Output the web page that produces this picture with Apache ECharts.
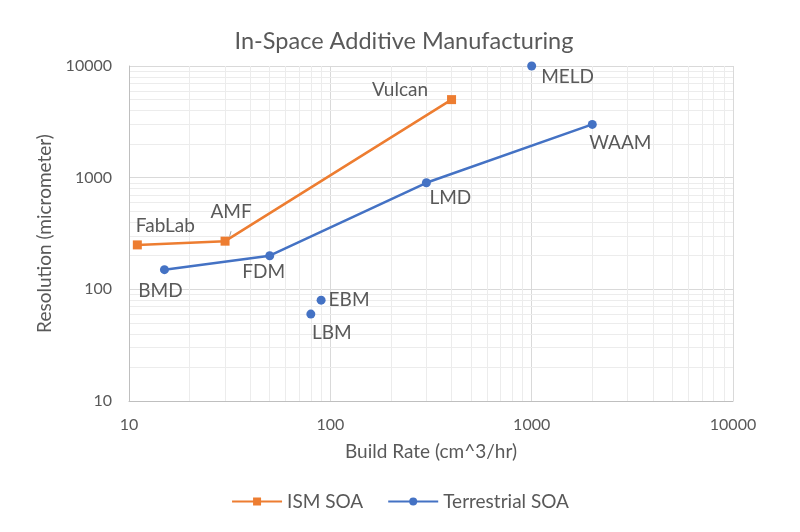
<!DOCTYPE html>
<html><head><meta charset="utf-8">
<script src="https://cdn.jsdelivr.net/npm/echarts@6/dist/echarts.min.js"></script>
<style>html,body{margin:0;padding:0;background:#fff}#c{width:800px;height:532px}</style>
</head><body><div id="c"></div>
<script>
// ---- data ----
const ismNames = ['FabLab', 'AMF', 'Vulcan'];
const ismRate  = [11, 30, 400];
const ismRes   = [250, 270, 5000];

const terNames = ['BMD', 'FDM', 'LMD', 'WAAM'];
const terRate  = [15, 50, 300, 2000];
const terRes   = [150, 200, 900, 3000];

const terPtNames = ['EBM', 'LBM', 'MELD'];
const terPtRate  = [90, 80, 1000];
const terPtRes   = [80, 60, 10000];

const xTicks = [10, 100, 1000, 10000];
const yTicks = [10, 100, 1000, 10000];
// minor gridline positions (2..9 within each decade)
const minorMults = [2, 3, 4, 5, 6, 7, 8, 9];
const decades = [10, 100, 1000];

// ---- styling ----
const ORANGE = '#ED7D31', BLUE = '#4472C4';
const TXT = '#595959';
const FONT = 'Lato, "Open Sans", sans-serif';
const labelStyle = {
  FabLab: {position: 'top', offset: [28, 0]},
  AMF:    {position: 'top', offset: [6, -10]},
  Vulcan: {position: 'left', offset: [-14, -10]},
  BMD:    {position: 'bottom', offset: [-4, 2]},
  FDM:    {position: 'bottom', offset: [-6, -3]},
  LMD:    {position: 'bottom', offset: [24, -4]},
  WAAM:   {position: 'bottom', offset: [28, -1]},
  EBM:    {position: 'right', offset: [-2, 0]},
  LBM:    {position: 'bottom', offset: [21, 0]},
  MELD:   {position: 'right', offset: [0, 11]}
};
const withLeader = {AMF: true};
function build(names, xs, ys) {
  return names.map((n, i) => ({
    name: n, value: [xs[i], ys[i]],
    label: Object.assign({show: true, formatter: n}, labelStyle[n]),
    labelLine: {show: !!withLeader[n], lineStyle: {color: '#a6a6a6', width: 1}}
  }));
}
const minorVals = [];
decades.forEach(d => minorMults.forEach(m => minorVals.push(m * d)));

const chart = echarts.init(document.getElementById('c'));
const baseLabel = {color: TXT, fontSize: 19, fontFamily: FONT};
chart.setOption({
  animation: false,
  backgroundColor: '#fff',
  title: {
    text: 'In-Space Additive Manufacturing', left: 399, top: 24, textAlign: 'center',
    textStyle: {fontSize: 23.5, fontWeight: 'normal', color: TXT, fontFamily: FONT}
  },
  legend: {
    data: ['ISM SOA', 'Terrestrial SOA'], top: 487, left: 'center',
    itemWidth: 50, itemHeight: 10, itemGap: 24,
    textStyle: {fontSize: 19, color: TXT, fontFamily: FONT}
  },
  grid: {left: 129, right: 67, top: 66, bottom: 131},
  xAxis: {
    type: 'log', logBase: 10, min: 10, max: 10000,
    name: 'Build Rate (cm^3/hr)', nameLocation: 'middle', nameGap: 41,
    nameTextStyle: {fontSize: 19, color: TXT, fontFamily: FONT},
    axisLine: {show: true, lineStyle: {color: '#bfbfbf'}},
    axisTick: {show: false},
    axisLabel: {fontSize: 16, color: TXT, fontFamily: FONT, margin: 16,
      formatter: v => String(Math.round(v))},
    splitLine: {show: true, lineStyle: {color: '#d9d9d9'}}
  },
  yAxis: {
    type: 'log', logBase: 10, min: 10, max: 10000,
    name: 'Resolution (micrometer)', nameLocation: 'middle', nameGap: 68,
    nameTextStyle: {fontSize: 19, color: TXT, fontFamily: FONT},
    axisLine: {show: true, lineStyle: {color: '#bfbfbf'}},
    axisTick: {show: false},
    axisLabel: {fontSize: 16, color: TXT, fontFamily: FONT, margin: 17,
      formatter: v => String(Math.round(v))},
    splitLine: {show: true, lineStyle: {color: '#d9d9d9'}}
  },
  series: [
    {
      type: 'line', name: '_minor', silent: true, data: [], z: 0,
      markLine: {
        silent: true, symbol: 'none', z: 0, label: {show: false},
        lineStyle: {color: '#ececec', type: 'solid', width: 1},
        data: minorVals.map(v => ({xAxis: v})).concat(minorVals.map(v => ({yAxis: v})))
      }
    },
    {
      type: 'line', name: 'ISM SOA', z: 3,
      data: build(ismNames, ismRate, ismRes),
      symbol: 'rect', symbolSize: 9,
      lineStyle: {color: ORANGE, width: 2.5}, itemStyle: {color: ORANGE},
      label: baseLabel
    },
    {
      type: 'line', name: 'Terrestrial SOA', z: 3,
      data: build(terNames, terRate, terRes),
      symbol: 'circle', symbolSize: 9,
      lineStyle: {color: BLUE, width: 2.5}, itemStyle: {color: BLUE},
      label: baseLabel
    },
    {
      type: 'scatter', name: 'Terrestrial points', z: 3,
      data: build(terPtNames, terPtRate, terPtRes),
      symbol: 'circle', symbolSize: 9,
      itemStyle: {color: BLUE, opacity: 1}, label: baseLabel,
      emphasis: {disabled: true}
    }
  ]
});
</script></body></html>
